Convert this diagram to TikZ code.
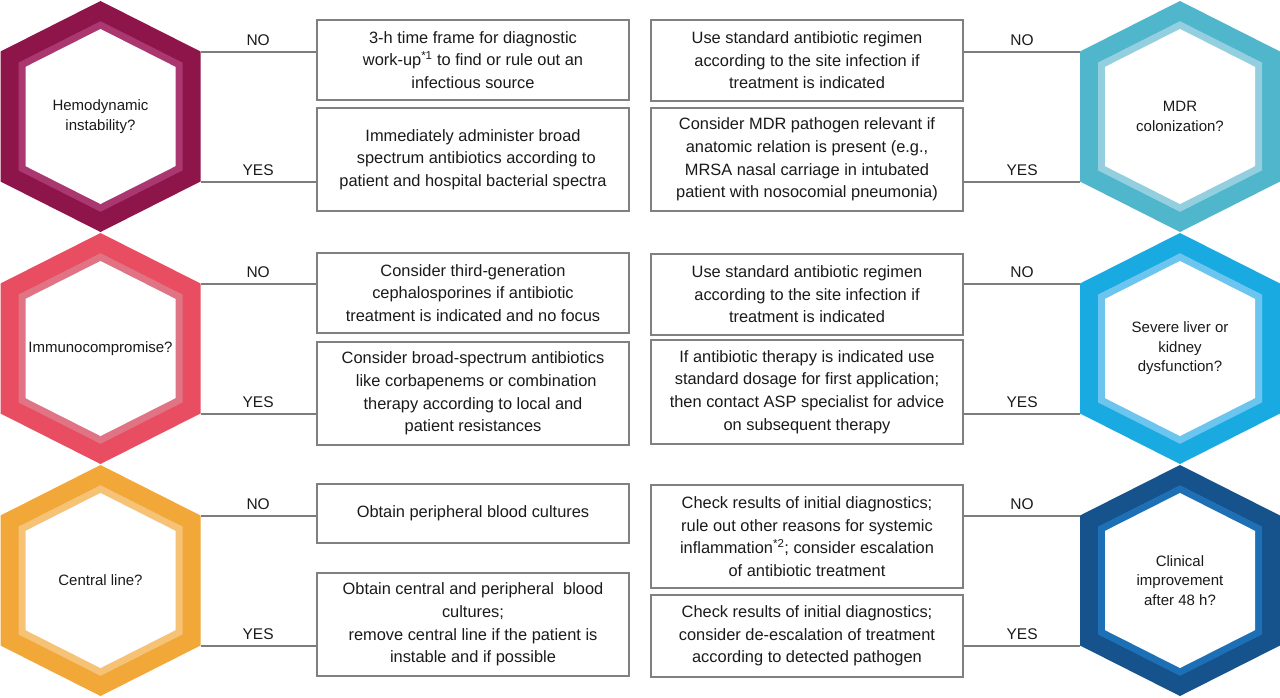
\documentclass[tikz,border=0pt]{standalone}
\usepackage{fontspec}
\setmainfont{Liberation Sans}
\definecolor{hAo}{RGB}{142,21,74}
\definecolor{hAi}{RGB}{170,55,112}
\definecolor{hBo}{RGB}{232,77,97}
\definecolor{hBi}{RGB}{224,116,132}
\definecolor{hCo}{RGB}{242,167,57}
\definecolor{hCi}{RGB}{246,194,118}
\definecolor{hDo}{RGB}{80,182,204}
\definecolor{hDi}{RGB}{148,207,224}
\definecolor{hEo}{RGB}{26,170,226}
\definecolor{hEi}{RGB}{108,197,238}
\definecolor{hFo}{RGB}{22,82,140}
\definecolor{hFi}{RGB}{30,112,182}
\definecolor{boxgray}{RGB}{128,128,128}
\definecolor{linegray}{RGB}{125,125,125}
\definecolor{textc}{RGB}{26,26,26}
\newcommand\boxfont{\fontsize{16.4}{22.6}\selectfont}
\newcommand\hexfont{\fontsize{15}{19.6}\selectfont}
\newcommand\labfont{\fontsize{15.5}{18}\selectfont}
\newcommand\drawhex[6]{%
  \fill[#4] (#2,#3-115.5) -- (#2+100,#3-65) -- (#2+100,#3+65) -- (#2,#3+115.5) -- (#2-100,#3+65) -- (#2-100,#3-65) -- cycle;
  \fill[#5] (#2,#3-95.3) -- (#2+82,#3-53.9) -- (#2+82,#3+53.9) -- (#2,#3+95.3) -- (#2-82,#3+53.9) -- (#2-82,#3-53.9) -- cycle;
  \fill[white] (#2,#3-87.5) -- (#2+75,#3-49.6) -- (#2+75,#3+49.6) -- (#2,#3+87.5) -- (#2-75,#3+49.6) -- (#2-75,#3-49.6) -- cycle;
  \node[hextext] (#1) at (#2,#3) {#6};
  \coordinate (#1-ne) at (#2+100,#3-65);
  \coordinate (#1-se) at (#2+100,#3+65);
  \coordinate (#1-nw) at (#2-100,#3-65);
  \coordinate (#1-sw) at (#2-100,#3+65);
}
\tikzset{
  hextext/.style={align=center, font=\hexfont, text=textc, inner sep=0pt},
  actbox/.style={draw=boxgray, line width=2.4pt, align=center, font=\boxfont, text=textc, inner sep=0pt, minimum width=312pt},
  conn/.style={draw=linegray, line width=2pt},
  lab/.style={font=\labfont, text=textc, above, inner sep=4.5pt}
}
\begin{document}
\begin{tikzpicture}[x=1pt,y=-1pt]
\fill[white] (0,0) rectangle (1280,697);
\useasboundingbox (0,0) rectangle (1280,697);

\drawhex{hA}{100.5}{116.5}{hAo}{hAi}{Hemodynamic\\instability?}
\drawhex{hB}{100.5}{348.5}{hBo}{hBi}{Immunocompromise?}
\drawhex{hC}{100.5}{580.5}{hCo}{hCi}{Central line?}
\drawhex{hD}{1180}{116.5}{hDo}{hDi}{MDR\\colonization?}
\drawhex{hE}{1180}{348.5}{hEo}{hEi}{Severe liver or\\kidney\\dysfunction?}
\drawhex{hF}{1180}{580.5}{hFo}{hFi}{Clinical\\improvement\\after 48 h?}

% left boxes
\node[actbox, minimum height=80pt] (L1) at (473,60) {3-h time frame for diagnostic\\work-up\textsuperscript{*1} to find or rule out an\\infectious source};
\node[actbox, minimum height=103pt] (L2) at (473,159.5) {Immediately administer broad\\\hspace*{0.4em}spectrum antibiotics according to\\patient and hospital bacterial spectra};
\node[actbox, minimum height=80pt] (L3) at (473,293) {Consider third-generation\\cephalosporines if antibiotic\\treatment is indicated and no focus};
\node[actbox, minimum height=103pt] (L4) at (473,393.5) {Consider broad-spectrum antibiotics\\\hspace*{0.4em}like corbapenems or combination\\therapy according to local and\\patient resistances};
\node[actbox, minimum height=59pt] (L5) at (473,513.5) {Obtain peripheral blood cultures};
\node[actbox, minimum height=103pt] (L6) at (473,624.5) {Obtain central and peripheral\ \ blood\\cultures;\\remove central line if the patient is\\instable and if possible};

% right boxes
\node[actbox, minimum height=81pt] (R1) at (807,60.5) {Use standard antibiotic regimen\\according to the site infection if\\treatment is indicated};
\node[actbox, minimum height=103pt] (R2) at (807,159.5) {Consider MDR pathogen relevant if\\anatomic relation is present (e.g.,\\MRSA nasal carriage in intubated\\patient with nosocomial pneumonia)};
\node[actbox, minimum height=81pt] (R3) at (807,294.5) {Use standard antibiotic regimen\\according to the site infection if\\treatment is indicated};
\node[actbox, minimum height=104pt] (R4) at (807,392) {If antibiotic therapy is indicated use\\standard dosage for first application;\\then contact ASP specialist for advice\\on subsequent therapy};
\node[actbox, minimum height=103pt] (R5) at (807,536.5) {Check results of initial diagnostics;\\rule out other reasons for systemic\\inflammation\textsuperscript{*2}; consider escalation\\of antibiotic treatment};
\node[actbox, minimum height=82pt] (R6) at (807,636) {Check results of initial diagnostics;\\consider de-escalation of treatment\\according to detected pathogen};

% connectors left
\draw[conn] (hA-ne) -- (hA-ne -| L1.west) node[lab, midway] {NO};
\draw[conn] (hA-se) -- (hA-se -| L2.west) node[lab, midway] {YES};
\draw[conn] (hB-ne) -- (hB-ne -| L3.west) node[lab, midway] {NO};
\draw[conn] (hB-se) -- (hB-se -| L4.west) node[lab, midway] {YES};
\draw[conn] (hC-ne) -- (hC-ne -| L5.west) node[lab, midway] {NO};
\draw[conn] (hC-se) -- (hC-se -| L6.west) node[lab, midway] {YES};
% connectors right
\draw[conn] (hD-nw -| R1.east) -- (hD-nw) node[lab, midway] {NO};
\draw[conn] (hD-sw -| R2.east) -- (hD-sw) node[lab, midway] {YES};
\draw[conn] (hE-nw -| R3.east) -- (hE-nw) node[lab, midway] {NO};
\draw[conn] (hE-sw -| R4.east) -- (hE-sw) node[lab, midway] {YES};
\draw[conn] (hF-nw -| R5.east) -- (hF-nw) node[lab, midway] {NO};
\draw[conn] (hF-sw -| R6.east) -- (hF-sw) node[lab, midway] {YES};
\end{tikzpicture}
\end{document}
